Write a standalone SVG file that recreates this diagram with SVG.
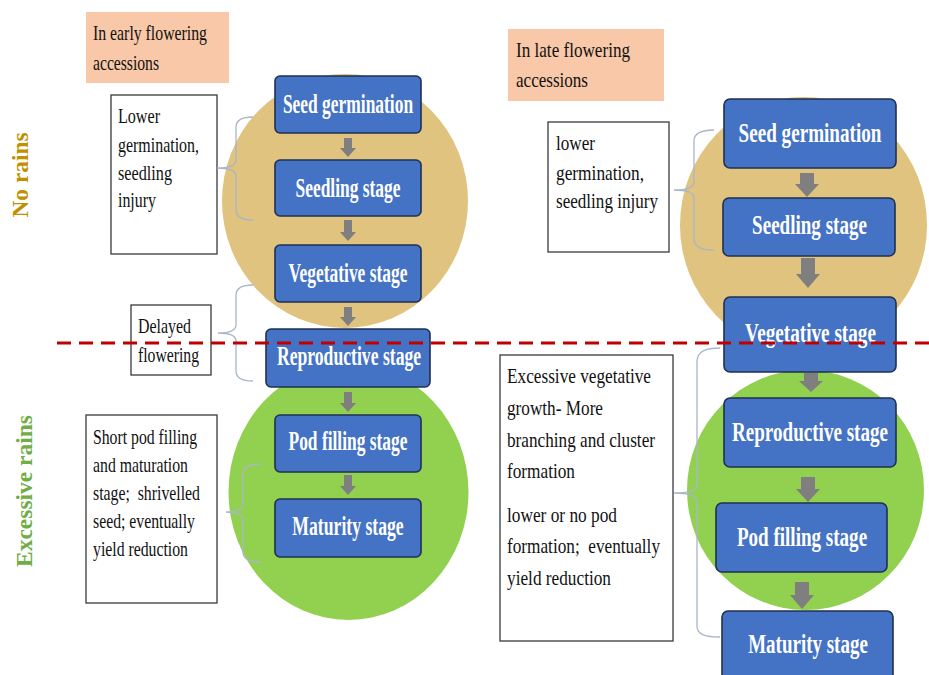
<svg xmlns="http://www.w3.org/2000/svg" width="929" height="675" viewBox="0 0 929 675">
<style>
  .bg{fill:#ffffff}
  .tan{fill:#DFC37E}
  .grn{fill:#92D050}
  .peach{fill:#F8C8A8}
  .note{fill:#ffffff;stroke:#3a3a3a;stroke-width:1.3}
  .stage rect{fill:#4472C4;stroke:#1F3050;stroke-width:1.6}
  .stage text{font-family:"Liberation Serif","Times New Roman",serif;font-weight:bold;fill:#ffffff;text-anchor:middle}
  .sl text{font-size:27px}
  .sr text{font-size:28px}
  .t{font-family:"Liberation Serif","Times New Roman",serif;fill:#111111}
  .t20{font-size:21px}
  .t21{font-size:22px}
  .brace{fill:none;stroke:#A9B6C9;stroke-width:1.3}
  .arr{fill:#7F7F7F}
  .dash{stroke:#C00000;stroke-width:3;stroke-dasharray:14 8;fill:none}
  .side{font-family:"Liberation Serif","Times New Roman",serif;font-weight:bold;text-anchor:middle}
</style>
<rect class="bg" x="0" y="0" width="929" height="675"/>

<g id="zones">
  <ellipse class="tan" cx="345" cy="201" rx="123" ry="127"/>
  <ellipse class="grn" cx="348.5" cy="492" rx="120" ry="128"/>
  <ellipse class="tan" cx="803.5" cy="225" rx="123.5" ry="128"/>
  <ellipse class="grn" cx="805.5" cy="490" rx="118.5" ry="120"/>
</g>

<g id="label-no-rains">
  <text class="side" transform="translate(28,175) rotate(-90)" font-size="23" fill="#BF9000" textLength="85" lengthAdjust="spacingAndGlyphs">No rains</text>
</g>
<g id="label-excessive-rains">
  <text class="side" transform="translate(32,491) rotate(-90)" font-size="24" fill="#70AD47" textLength="152" lengthAdjust="spacingAndGlyphs">Excessive rains</text>
</g>

<g id="header-early">
  <rect class="peach" x="86" y="12" width="143" height="71"/>
  <text class="t t21" x="93" y="40" textLength="114" lengthAdjust="spacingAndGlyphs">In early flowering</text>
  <text class="t t21" x="93" y="70" textLength="66" lengthAdjust="spacingAndGlyphs">accessions</text>
</g>
<g id="header-late">
  <rect class="peach" x="508" y="29" width="156" height="72"/>
  <text class="t t21" x="516" y="57" textLength="114" lengthAdjust="spacingAndGlyphs">In late flowering</text>
  <text class="t t21" x="516" y="87" textLength="72" lengthAdjust="spacingAndGlyphs">accessions</text>
</g>

<g id="note-early-germ">
  <rect class="note" x="111" y="95" width="106" height="159"/>
  <text class="t t20" x="118" y="123" textLength="42" lengthAdjust="spacingAndGlyphs">Lower</text>
  <text class="t t20" x="118" y="152" textLength="81" lengthAdjust="spacingAndGlyphs">germination,</text>
  <text class="t t20" x="118" y="180" textLength="54" lengthAdjust="spacingAndGlyphs">seedling</text>
  <text class="t t20" x="118" y="207" textLength="38" lengthAdjust="spacingAndGlyphs">injury</text>
</g>
<g id="note-delayed">
  <rect class="note" x="131" y="305" width="80" height="70"/>
  <text class="t t20" x="138" y="333" textLength="53" lengthAdjust="spacingAndGlyphs">Delayed</text>
  <text class="t t20" x="138" y="362" textLength="61" lengthAdjust="spacingAndGlyphs">flowering</text>
</g>
<g id="note-early-pod">
  <rect class="note" x="86" y="415" width="131" height="188"/>
  <text class="t t20" x="93" y="444" textLength="104" lengthAdjust="spacingAndGlyphs">Short pod filling</text>
  <text class="t t20" x="93" y="472" textLength="95" lengthAdjust="spacingAndGlyphs">and maturation</text>
  <text class="t t20" x="93" y="500" textLength="107" lengthAdjust="spacingAndGlyphs" xml:space="preserve">stage;  shrivelled</text>
  <text class="t t20" x="93" y="528" textLength="102" lengthAdjust="spacingAndGlyphs">seed; eventually</text>
  <text class="t t20" x="93" y="556" textLength="95" lengthAdjust="spacingAndGlyphs">yield reduction</text>
</g>
<g id="note-late-germ">
  <rect class="note" x="548" y="122" width="121" height="130"/>
  <text class="t t21" x="556" y="150" textLength="39" lengthAdjust="spacingAndGlyphs">lower</text>
  <text class="t t21" x="556" y="180" textLength="88" lengthAdjust="spacingAndGlyphs">germination,</text>
  <text class="t t21" x="556" y="208" textLength="102" lengthAdjust="spacingAndGlyphs">seedling injury</text>
</g>
<g id="note-late-veg">
  <rect class="note" x="500" y="355" width="173" height="286"/>
  <text class="t t21" x="507" y="383" textLength="144" lengthAdjust="spacingAndGlyphs">Excessive vegetative</text>
  <text class="t t21" x="507" y="415" textLength="96" lengthAdjust="spacingAndGlyphs">growth- More</text>
  <text class="t t21" x="507" y="447" textLength="148" lengthAdjust="spacingAndGlyphs">branching and cluster</text>
  <text class="t t21" x="507" y="478" textLength="68" lengthAdjust="spacingAndGlyphs">formation</text>
  <text class="t t21" x="507" y="522" textLength="110" lengthAdjust="spacingAndGlyphs">lower or no pod</text>
  <text class="t t21" x="507" y="553" textLength="153" lengthAdjust="spacingAndGlyphs" xml:space="preserve">formation;  eventually</text>
  <text class="t t21" x="507" y="585" textLength="104" lengthAdjust="spacingAndGlyphs">yield reduction</text>
</g>

<g id="connectors">
  <path class="brace" d="M253,117 C243,117 236,119 236,127 L236,160 C236,165 230,168 217,168 C230,168 236,171 236,176 L236,210 C236,218 243,220 253,220"/>
  <path class="brace" d="M253,285 C243,285 236,287 236,295 L236,325 C236,330 230,333 218,333 C230,333 236,336 236,341 L236,371 C236,379 243,381 253,381"/>
  <path class="brace" d="M261,464 C251,464 243,466 243,474 L243,504 C243,509 237,512 226,512 C237,512 243,515 243,520 L243,552 C243,560 251,562 261,562"/>
  <path class="brace" d="M714,130 C703,130 694,132 694,141 L694,182 C694,187 687,190 674,190 C687,190 694,193 694,198 L694,239 C694,248 703,250 714,250"/>
  <path class="brace" d="M720,348 C706,348 697,351 697,362 L697,485 C697,490 690,493 674,493 C690,493 697,496 697,501 L697,626 C697,635 706,637 720,637"/>

  <polygon class="arr" points="344,138 352,138 352,148 356,148 348,157 340,148 344,148"/>
  <polygon class="arr" points="344,220 352,220 352,232 356,232 348,241 340,232 344,232"/>
  <polygon class="arr" points="344,307 352,307 352,317 356,317 348,326 340,317 344,317"/>
  <polygon class="arr" points="344,392 352,392 352,403 356,403 348,412 340,403 344,403"/>
  <polygon class="arr" points="344,475 352,475 352,486 356,486 348,495 340,486 344,486"/>

  <polygon class="arr" points="800,173 814,173 814,184 819,184 807,197 795,184 800,184"/>
  <polygon class="arr" points="801,258 815,258 815,274 820,274 808,288 796,274 801,274"/>
  <polygon class="arr" points="804,373 818,373 818,381 823,381 811,392 799,381 804,381"/>
  <polygon class="arr" points="801,477 815,477 815,489 820,489 808,502 796,489 801,489"/>
  <polygon class="arr" points="795,582 809,582 809,595 814,595 802,609 790,595 795,595"/>
</g>

<g id="early-seed" class="stage sl"><rect x="275" y="76" width="146" height="57" rx="5"/><text transform="translate(348,113) scale(0.7,1)" textLength="186" lengthAdjust="spacingAndGlyphs">Seed germination</text></g>
<g id="early-seedling" class="stage sl"><rect x="275" y="160" width="146" height="56" rx="5"/><text transform="translate(348,197) scale(0.7,1)" textLength="150" lengthAdjust="spacingAndGlyphs">Seedling stage</text></g>
<g id="early-veg" class="stage sl"><rect x="275" y="245" width="146" height="57" rx="5"/><text transform="translate(348,282) scale(0.7,1)" textLength="170" lengthAdjust="spacingAndGlyphs">Vegetative stage</text></g>
<g id="early-repro" class="stage sl"><rect x="266" y="329" width="164" height="58" rx="5"/><text transform="translate(349,365) scale(0.7,1)" textLength="206" lengthAdjust="spacingAndGlyphs">Reproductive stage</text></g>
<g id="early-pod" class="stage sl"><rect x="275" y="415" width="146" height="57" rx="5"/><text transform="translate(348,450) scale(0.7,1)" textLength="170" lengthAdjust="spacingAndGlyphs">Pod filling stage</text></g>
<g id="early-mat" class="stage sl"><rect x="275" y="499" width="146" height="58" rx="5"/><text transform="translate(348,535) scale(0.7,1)" textLength="159" lengthAdjust="spacingAndGlyphs">Maturity stage</text></g>

<g id="late-seed" class="stage sr"><rect x="724" y="99" width="172" height="69" rx="6"/><text transform="translate(810,142) scale(0.7,1)" textLength="204" lengthAdjust="spacingAndGlyphs">Seed germination</text></g>
<g id="late-seedling" class="stage sr"><rect x="723" y="198" width="172" height="58" rx="6"/><text transform="translate(809.5,234) scale(0.7,1)" textLength="164" lengthAdjust="spacingAndGlyphs">Seedling stage</text></g>
<g id="late-veg" class="stage sr"><rect x="724" y="297" width="172" height="75" rx="6"/><text transform="translate(810.5,342) scale(0.7,1)" textLength="187" lengthAdjust="spacingAndGlyphs">Vegetative stage</text></g>
<g id="late-repro" class="stage sr"><rect x="724" y="398" width="172" height="69" rx="6"/><text transform="translate(810,441) scale(0.7,1)" textLength="223" lengthAdjust="spacingAndGlyphs">Reproductive stage</text></g>
<g id="late-pod" class="stage sr"><rect x="716" y="503" width="171" height="69" rx="6"/><text transform="translate(802,546) scale(0.7,1)" textLength="186" lengthAdjust="spacingAndGlyphs">Pod filling stage</text></g>
<g id="late-mat" class="stage sr"><rect x="722" y="611" width="171" height="72" rx="6"/><text transform="translate(808,653) scale(0.7,1)" textLength="171" lengthAdjust="spacingAndGlyphs">Maturity stage</text></g>

<g id="divider">
  <line class="dash" x1="57" y1="343" x2="929" y2="343"/>
</g>
</svg>
